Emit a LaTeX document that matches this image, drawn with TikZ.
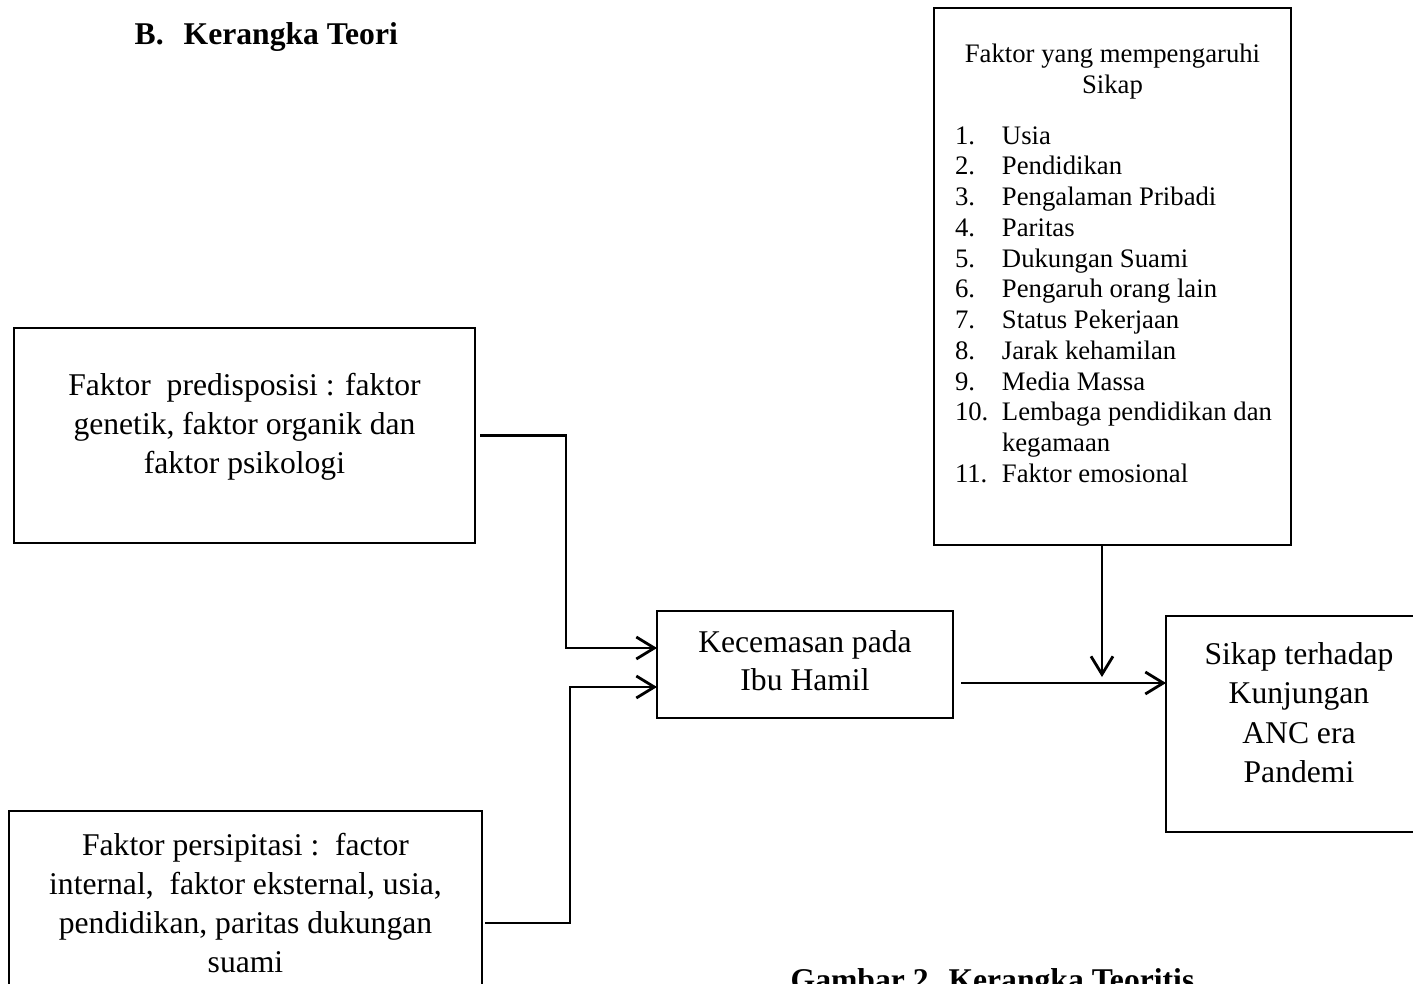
\documentclass[tikz,border=0pt]{standalone}
\usepackage{fontspec}
\setmainfont{Liberation Serif}
\usetikzlibrary{arrows.meta}
\tikzset{
  kotak/.style={draw,line width=0.8pt,inner sep=0pt,outer sep=0pt},
  judulteks/.style={anchor=base west,inner sep=0pt,font=\fontsize{9}{11}\selectfont\bfseries},
  panah/.style={line width=0.8pt,-{Straight Barb[length=1.8mm,width=2.2mm]}}
}
\newcommand{\nomor}[1]{\makebox[0.47cm][l]{#1}}

\begin{document}
\begin{tikzpicture}
        \useasboundingbox (0,0) rectangle (14.13,-9.84);
        \clip (0,0) rectangle (14.13,-9.84);
        \node[judulteks] (judul) at (1.34,-0.44) {B.\hspace{0.2cm}Kerangka Teori};
        \node[kotak] (pred) at (2.445,-4.355) {\parbox[c][2.15cm][t]{4.61cm}{\fontsize{9}{11.06}\selectfont\centering
          \vspace*{0.454cm}Faktor\ \ predisposisi : faktor\\genetik, faktor organik dan\\faktor psikologi}};
        \node[kotak] (pers) at (2.455,-9.105) {\parbox[c][1.99cm][t]{4.73cm}{\fontsize{9}{11.06}\selectfont\centering
          \vspace*{0.224cm}Faktor persipitasi :\ \ factor\\internal,\ \ faktor eksternal, usia,\\pendidikan, paritas dukungan\\suami}};
        \node[kotak] (kec) at (8.05,-6.645) {\parbox[c][1.07cm][t]{2.96cm}{\fontsize{9}{10.8}\selectfont\centering
          \vspace*{0.194cm}Kecemasan pada\\Ibu Hamil}};
        \node[kotak] (sikap) at (12.99,-7.24) {\parbox[c][2.16cm][t]{2.66cm}{\fontsize{9}{11.2}\selectfont\centering
          \vspace*{0.264cm}Sikap terhadap\\Kunjungan\\ANC era\\Pandemi}};
        \node[kotak] (faktor) at (11.125,-2.765) {\parbox[c][5.37cm][t]{3.57cm}{\fontsize{7.6}{8.75}\selectfont
          \vspace*{0.362cm}
          {\centering Faktor yang mempengaruhi\\Sikap\\[0.198cm]}
          \raggedright\leftskip=0.21cm
          \nomor{1.}Usia\\
          \nomor{2.}Pendidikan\\
          \nomor{3.}Pengalaman Pribadi\\
          \nomor{4.}Paritas\\
          \nomor{5.}Dukungan Suami\\
          \nomor{6.}Pengaruh orang lain\\
          \nomor{7.}Status Pekerjaan\\
          \nomor{8.}Jarak kehamilan\\
          \nomor{9.}Media Massa\\
          \nomor{10.}Lembaga pendidikan dan\\
          \nomor{}kegamaan\\
          \nomor{11.}Faktor emosional}};
        \node[judulteks] (keterangan) at (7.90,-9.90) {Gambar 2.\hspace{0.12cm}Kerangka Teoritis};
        % panah
        \draw[panah,shorten <=0.05cm] (pred.east) -- ++(0.91,0) |- ([yshift=1.65mm]kec.west);
        \draw[panah,shorten <=0.03cm] ([yshift=-1.25mm]pers.east) -- ++(0.88,0) |- ([yshift=-2.25mm]kec.west);
        \draw[panah,shorten <=0.08cm] ([yshift=-1.85mm]kec.east) -- ([yshift=-1.85mm]kec.east -| sikap.west);
        \coordinate (temu) at (11.02,-6.77);
        \draw[panah] (faktor.south -| temu) -- (temu);
      \end{tikzpicture}
\end{document}
